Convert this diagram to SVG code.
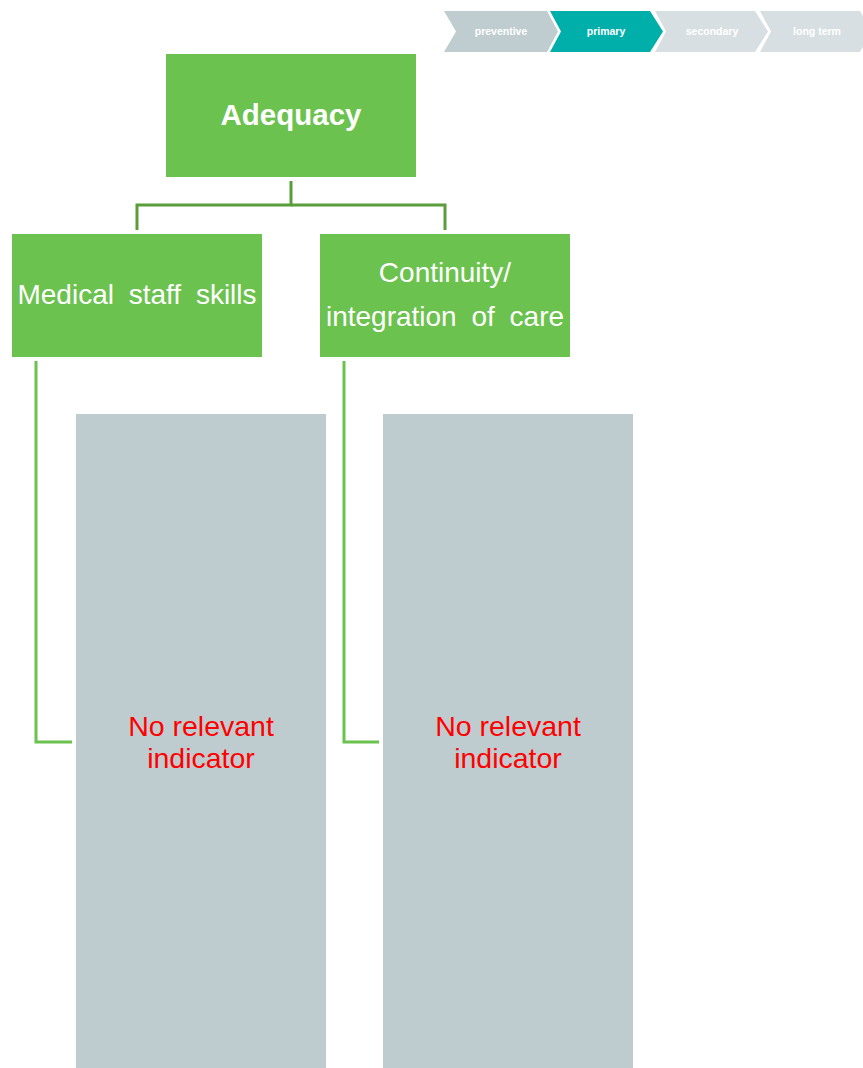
<svg xmlns="http://www.w3.org/2000/svg" width="863" height="1068" viewBox="0 0 863 1068">
<style>
.chev text{font-family:"Liberation Sans",Arial,sans-serif;font-size:10.5px;font-weight:bold;fill:#ffffff;text-anchor:middle}
.green{fill:#6BC24E}
.gray{fill:#BECCD0}
.wt{font-family:"Liberation Sans",Arial,sans-serif;fill:#ffffff;text-anchor:middle}
.red{font-family:"Liberation Sans",Arial,sans-serif;fill:#FF0000;text-anchor:middle;font-size:28.5px}
.conn{fill:none;stroke-width:3}
</style>
<rect width="863" height="1068" fill="#ffffff"/>
<g id="steps" class="chev">
<g id="step-preventive"><polygon points="444,11 547,11 558,31.5 547,52 444,52 456,31.5" fill="#BFCDD1"/><text x="501" y="35">preventive</text></g>
<g id="step-primary"><polygon points="550,11 650,11 663,31.5 650,52 550,52 561,31.5" fill="#00AFAA"/><text x="606" y="35">primary</text></g>
<g id="step-secondary"><polygon points="655,11 755,11 768,31.5 755,52 655,52 666,31.5" fill="#D8DFE2"/><text x="712" y="35">secondary</text></g>
<g id="step-longterm"><polygon points="760,11 860,11 863,16 863,47 860,52 760,52 771,31.5" fill="#D8DFE2"/><text x="817" y="35">long term</text></g>
</g>
<g id="connectors">
<polyline class="conn" stroke="#5A9E3C" points="291,181 291,205 137,205 137,230"/>
<polyline class="conn" stroke="#5A9E3C" points="291,205 445,205 445,230"/>
<polyline class="conn" stroke="#6BC24E" points="36,361 36,742 72,742"/>
<polyline class="conn" stroke="#6BC24E" points="344,361 344,742 379,742"/>
</g>
<g id="adequacy"><rect class="green" x="166" y="54" width="250" height="123"/><text class="wt" x="291" y="125" font-size="29.5" font-weight="bold">Adequacy</text></g>
<g id="medical-staff-skills"><rect class="green" x="12" y="234" width="250" height="123"/><text class="wt" x="137" y="304" font-size="28" word-spacing="7">Medical staff skills</text></g>
<g id="continuity"><rect class="green" x="320" y="234" width="250" height="123"/><text class="wt" x="445" y="282" font-size="28">Continuity/</text><text class="wt" x="445" y="326" font-size="28" word-spacing="7">integration of care</text></g>
<g id="indicator-1"><rect class="gray" x="76" y="414" width="250" height="654"/><text class="red" x="201" y="736">No relevant</text><text class="red" x="201" y="768">indicator</text></g>
<g id="indicator-2"><rect class="gray" x="383" y="414" width="250" height="654"/><text class="red" x="508" y="736">No relevant</text><text class="red" x="508" y="768">indicator</text></g>
</svg>
